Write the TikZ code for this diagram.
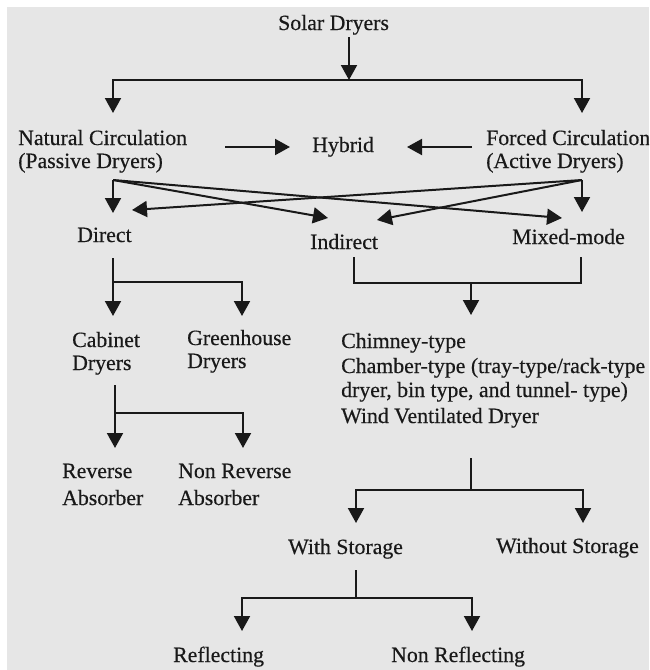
\documentclass[tikz,border=0pt]{standalone}
\usepackage{fontspec}
\setmainfont{Liberation Serif}[FakeBold=0.4]
\usetikzlibrary{arrows.meta}
\definecolor{bg}{RGB}{230,230,230}
\definecolor{ink}{RGB}{25,25,25}
\begin{document}
\begin{tikzpicture}[x=1pt,y=-1pt,
  txt/.style={inner sep=0pt, anchor=base west, font=\fontsize{21.8}{25}\selectfont, text=ink},
  ln/.style={line width=2pt, draw=ink},
  arr/.style={ln, -{Triangle[length=15pt,width=16pt]}},
]
\clip (0,0) rectangle (649,670);
\fill[bg] (7,7) rectangle (649,670);

% texts
\node[txt] (solar) at (278,30) {Solar Dryers};
\node[txt] (nat1) at (18,145) {Natural Circulation};
\node[txt] (nat2) at (18,168) {(Passive Dryers)};
\node[txt] (hyb) at (312,152) {Hybrid};
\node[txt] (frc1) at (486,145) {Forced Circulation};
\node[txt] (frc2) at (486,168) {(Active Dryers)};
\node[txt] (dir) at (77,242) {Direct};
\node[txt] (ind) at (310,249) {Indirect};
\node[txt] (mix) at (512,244) {Mixed-mode};
\node[txt] (cab1) at (72,347) {Cabinet};
\node[txt] (cab2) at (72,370) {Dryers};
\node[txt] (grn1) at (187,345) {Greenhouse};
\node[txt] (grn2) at (187,368) {Dryers};
\node[txt] (chm1) at (341,348) {Chimney-type};
\node[txt] (chm2) at (341,373) {Chamber-type (tray-type/rack-type};
\node[txt] (chm3) at (341,397) {dryer, bin type, and tunnel- type)};
\node[txt] (chm4) at (341,423) {Wind Ventilated Dryer};
\node[txt] (rev1) at (62,478) {Reverse};
\node[txt] (rev2) at (62,505) {Absorber};
\node[txt] (nrev1) at (178,478) {Non Reverse};
\node[txt] (nrev2) at (178,505) {Absorber};
\node[txt] (wst) at (288,554) {With Storage};
\node[txt] (wost) at (496,553) {Without Storage};
\node[txt] (refl) at (173,662) {Reflecting};
\node[txt] (nrefl) at (391,662) {Non Reflecting};

% junction coordinates
\coordinate (topS) at (349,37);
\coordinate (topJ) at (349,80);
\coordinate (natT) at (113,113);
\coordinate (frcT) at (582,113);
\coordinate (hybL1) at (225,147);
\coordinate (hybL2) at (290,147);
\coordinate (hybR1) at (472,147);
\coordinate (hybR2) at (407,147);
\coordinate (po) at (113,180);
\coordinate (ao) at (582,180);
\coordinate (dirT) at (113,213);
\coordinate (dirR) at (132,210);
\coordinate (indL) at (328,218);
\coordinate (indR) at (377,220);
\coordinate (mixL) at (562,218);
\coordinate (mixT) at (582,212);
\coordinate (dirB) at (113,258);
\coordinate (dirJ) at (113,282);
\coordinate (cabT) at (113,316);
\coordinate (grnT) at (242,316);
\coordinate (indB) at (354,257);
\coordinate (mixB) at (581,257);
\coordinate (imJ) at (471,283);
\coordinate (chmT) at (471,315);
\coordinate (cabB) at (115,385);
\coordinate (cabJ) at (115,413);
\coordinate (revT) at (115,448);
\coordinate (nrevT) at (243,448);
\coordinate (chmB) at (471,458);
\coordinate (chmJ) at (471,490);
\coordinate (wstT) at (356,523);
\coordinate (wostT) at (583,523);
\coordinate (wstB) at (356,570);
\coordinate (wstJ) at (356,598);
\coordinate (reflT) at (242,631);
\coordinate (nreflT) at (472,631);

% connectors
\draw[arr] (topS) -- (topJ);
\draw[arr] (topJ) -| (natT);
\draw[arr] (topJ) -| (frcT);
\draw[arr] (hybL1) -- (hybL2);
\draw[arr] (hybR1) -- (hybR2);
\draw[arr] (po) -- (dirT);
\draw[arr] (po) -- (indL);
\draw[arr] (po) -- (mixL);
\draw[arr] (ao) -- (mixT);
\draw[arr] (ao) -- (dirR);
\draw[arr] (ao) -- (indR);
\draw[ln] (dirB) -- (dirJ);
\draw[arr] (dirJ) -- (cabT);
\draw[arr] (dirJ) -| (grnT);
\draw[ln] (indB) |- (mixB |- imJ) -- (mixB);
\draw[arr] (imJ) -- (chmT);
\draw[ln] (cabB) -- (cabJ);
\draw[arr] (cabJ) -- (revT);
\draw[arr] (cabJ) -| (nrevT);
\draw[ln] (chmB) -- (chmJ);
\draw[arr] (chmJ) -| (wstT);
\draw[arr] (chmJ) -| (wostT);
\draw[ln] (wstB) -- (wstJ);
\draw[arr] (wstJ) -| (reflT);
\draw[arr] (wstJ) -| (nreflT);
\end{tikzpicture}
\end{document}
